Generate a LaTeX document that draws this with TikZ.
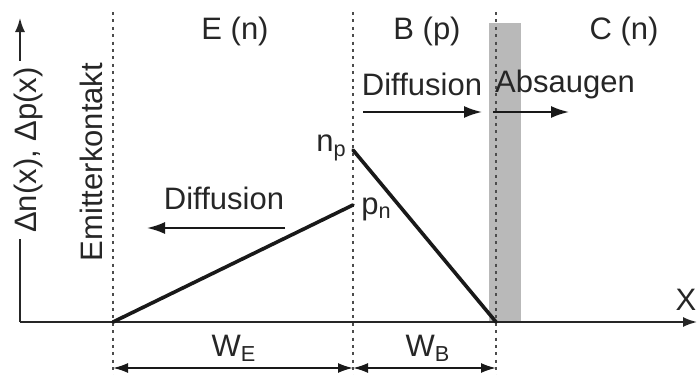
\documentclass[tikz,border=0pt]{standalone}
\usepackage{fontspec}
\setmainfont{Liberation Sans}
\usetikzlibrary{arrows.meta, positioning}

\begin{document}
\begin{tikzpicture}[x=0.5pt, y=-0.5pt,
    font=\fontsize{15.5}{18}\selectfont, text=black!85,
    axis/.style={line width=0.9pt, black!85},
    profile/.style={line width=1.8pt, line cap=round, black!90},
    border/.style={line width=1pt, dash pattern=on 1.5pt off 2.2pt, black!70},
    flow/.style={line width=1pt, black!90, -{Latex[length=9pt, width=6pt]}},
    dim/.style={line width=0.9pt, black!90, {Latex[length=7.5pt, width=5pt]}-{Latex[length=7.5pt, width=5pt]}}]
    \useasboundingbox (0,0) rectangle (697,375);
    % Space charge zone (base-collector)
    \fill[gray!55] (489,23) rectangle (521,322);
    % Axes
    \coordinate (O) at (20,322);
    \coordinate (ytop) at (20,18);
    \coordinate (xend) at (697,322);
    \draw[axis, -{Latex[length=7pt, width=5pt]}] (O) -- (ytop);
    \draw[axis, -{Latex[length=7pt, width=5pt]}] (O) -- (xend);
    \node[rotate=90, fill=white, inner sep=3pt] (ylabel) at (28,150) {Δn(x), Δp(x)};
    \node (xlabel) at (686,300) {X};
    % Region borders
    \coordinate (eTop) at (113,12);   \coordinate (eBot) at (113,375);
    \coordinate (bTop) at (353,12);   \coordinate (bBot) at (353,375);
    \coordinate (cTop) at (496,12);   \coordinate (cBot) at (496,375);
    \draw[border] (eTop) -- (eBot);
    \draw[border] (bTop) -- (bBot);
    \draw[border] (cTop) -- (cBot);
    % Region names
    \node (emitter) at (235,31) {E (n)};
    \node (base) at (427,31) {B (p)};
    \node (collector) at (624,31) {C (n)};
    \node[rotate=90] (contact) at (91,162) {Emitterkontakt};
    % Minority carrier profiles
    \coordinate (e0) at (113,322);
    \coordinate (pn) at (353,205);
    \coordinate (np) at (353,150);
    \coordinate (b0) at (496,322);
    \draw[profile] (e0) -- (pn);
    \draw[profile] (np) -- (b0);
    \node[anchor=east, inner sep=3pt] (nplabel) at ([yshift=1pt]np) {n\textsubscript{p}};
    \node[anchor=west, inner sep=4pt] (pnlabel) at ([yshift=-2pt]pn) {p\textsubscript{n}};
    % Currents
    \node (diffB) at (422,84) {Diffusion};
    \node (absaug) at (565,84) {Absaugen};
    \node (diffE) at (224,198) {Diffusion};
    \coordinate (dB1) at (363,112);  \coordinate (dB2) at (482,112);
    \coordinate (ab1) at (493,112);  \coordinate (ab2) at (569,112);
    \coordinate (dE1) at (285,228);  \coordinate (dE2) at (147,228);
    \draw[flow] (dB1) -- (dB2);
    \draw[flow] (ab1) -- (ab2);
    \draw[flow] (dE1) -- (dE2);
    % Widths
    \node (wE) at (234,348) {W\textsubscript{E}};
    \node (wB) at (428,348) {W\textsubscript{B}};
    \draw[dim] (113,368) -- (353,368);
    \draw[dim] (353,368) -- (496,368);
\end{tikzpicture}
\end{document}
